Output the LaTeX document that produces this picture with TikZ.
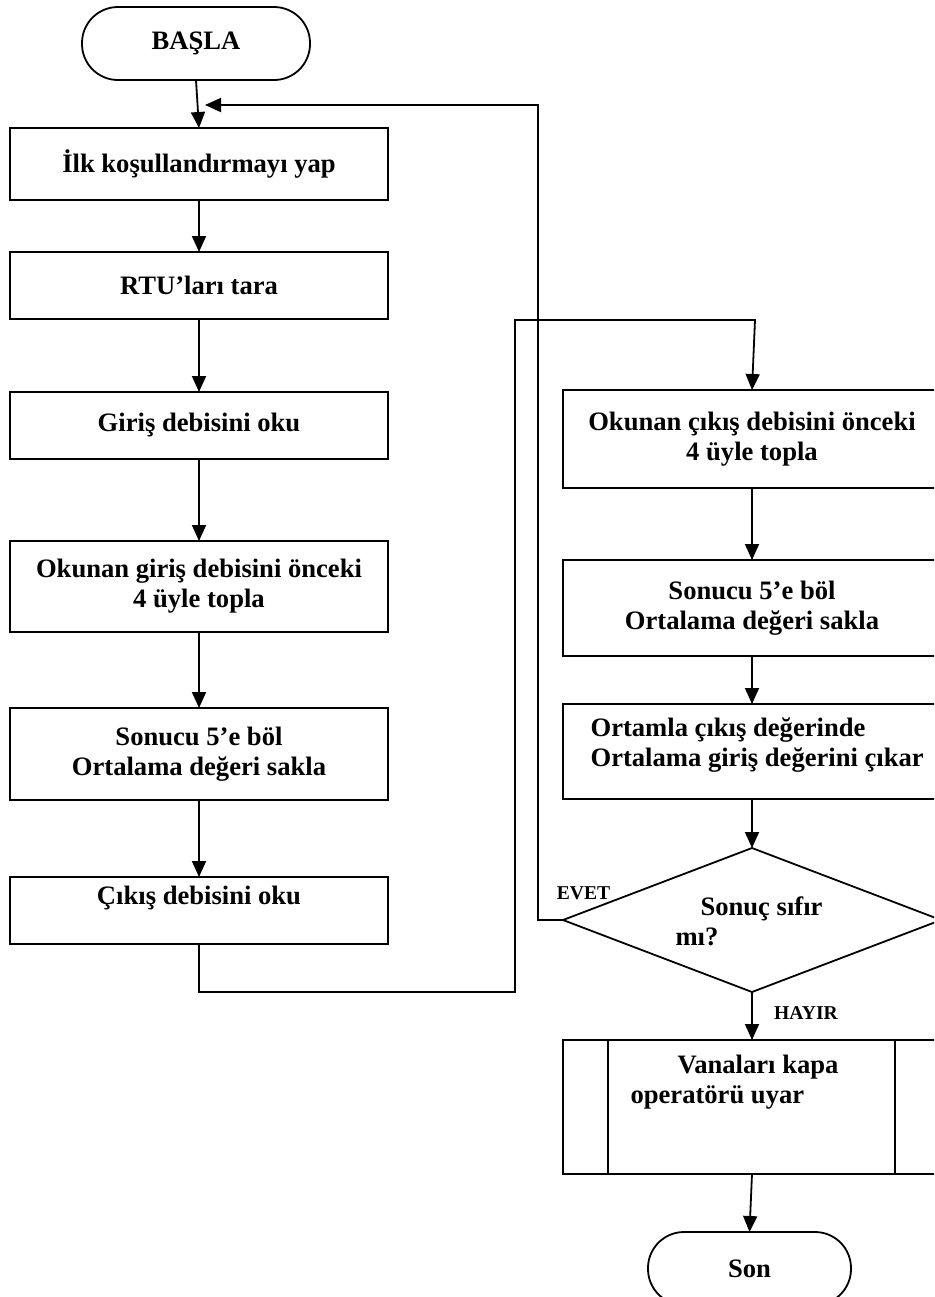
\documentclass[tikz,border=0pt]{standalone}
\usepackage{fontspec}
\setmainfont{Liberation Serif}
\usetikzlibrary{arrows.meta,shapes.geometric}

\begin{document}
\begin{tikzpicture}[x=0.5pt,y=-0.5pt,
  font=\fontsize{13.3}{15}\selectfont\bfseries,
  line width=0.9pt,
  flow/.style={-{Triangle[length=8pt,width=7pt]}},
  stepbox/.style={draw, rectangle, minimum width=189pt, inner sep=0pt, outer sep=0pt, align=center},
  terminal/.style={draw, rectangle, rounded corners=18pt, minimum height=36.5pt, inner sep=0pt, outer sep=0pt},
  decision/.style={draw, diamond, minimum width=189pt, minimum height=72pt, inner sep=0pt, outer sep=0pt},
  process/.style={stepbox, path picture={
      \draw ([xshift=22.5pt]path picture bounding box.north west) -- ([xshift=22.5pt]path picture bounding box.south west);
      \draw ([xshift=-23pt]path picture bounding box.north east) -- ([xshift=-23pt]path picture bounding box.south east);}},
  small/.style={font=\fontsize{9.8}{11}\selectfont\bfseries},
]
\useasboundingbox (0,0) rectangle (934,1297);
\clip (0,0) rectangle (934,1297);
\fill[white] (0,0) rectangle (934,1297);

% left column
\node[terminal, minimum width=114pt] (start) at (196,43.5) {BAŞLA};
\node[stepbox, minimum height=36pt] (b1) at (199,164) {İlk koşullandırmayı yap};
\node[stepbox, minimum height=33.5pt] (b2) at (199,285.5) {RTU’ları tara};
\node[stepbox, minimum height=33.5pt] (b3) at (199,425.5) {Giriş debisini oku};
\node[stepbox, minimum height=45.5pt] (b4) at (199,586.5) {Okunan giriş debisini önceki\\4 üyle topla};
\node[stepbox, minimum height=46pt] (b5) at (199,754) {Sonucu 5’e böl\\Ortalama değeri sakla};
\node[stepbox, minimum height=33.5pt] (b6) at (199,910.5) {};
\node (b6t) at (199,898) {Çıkış debisini oku};

% right column
\node[stepbox, minimum height=49pt] (r1) at (752,439) {Okunan çıkış debisini önceki\\4 üyle topla};
\node[stepbox, minimum height=48pt] (r2) at (752,608) {Sonucu 5’e böl\\Ortalama değeri sakla};
\node[stepbox, minimum height=47.5pt] (r3) at (752,751.5) {};
\node[anchor=west, align=left] (r3t) at (583,745) {Ortamla çıkış değerinde\\Ortalama giriş değerini çıkar};
\node[decision] (dia) at (752,920) {};
\node[anchor=west, align=left] (diat) at (668,921) {\hspace*{12.5pt}Sonuç sıfır\\mı?};
\node[process, minimum height=67pt] (vana) at (752,1107) {};
\node[anchor=west, align=left] (vanat) at (623,1082.5) {\hspace*{23.5pt}Vanaları kapa\\operatörü uyar};
\node[terminal, minimum width=101.5pt] (son) at (749.5,1268.5) {Son};

% branch labels
\node[small] (evet) at (583.5,893) {EVET};
\node[small] (hayir) at (806,1013) {HAYIR};

% main flow
\draw[flow] (start.south) -- (b1.north);
\draw[flow] (b1) -- (b2);
\draw[flow] (b2) -- (b3);
\draw[flow] (b3) -- (b4);
\draw[flow] (b4) -- (b5);
\draw[flow] (b5) -- (b6);

% transfer to the right column
\coordinate (loopA) at (515,992);
\coordinate (loopB) at (515,320);
\coordinate (loopC) at (755,320);
\draw[flow] (b6.south) |- (loopA) -- (loopB) -- (loopC) -- (r1.north);

\draw[flow] (r1) -- (r2);
\draw[flow] (r2) -- (r3);
\draw[flow] (r3.south) -- (dia.north);
\draw[flow] (dia.south) -- (vana.north);
\draw[flow] (vana.south) -- (son.north);

% EVET: back to the start
\coordinate (fbCorner) at (538,105);
\coordinate (fbEnd) at (205,105);
\draw[flow] (dia.west) -| (fbCorner) -- (fbEnd);
\end{tikzpicture}
\end{document}
